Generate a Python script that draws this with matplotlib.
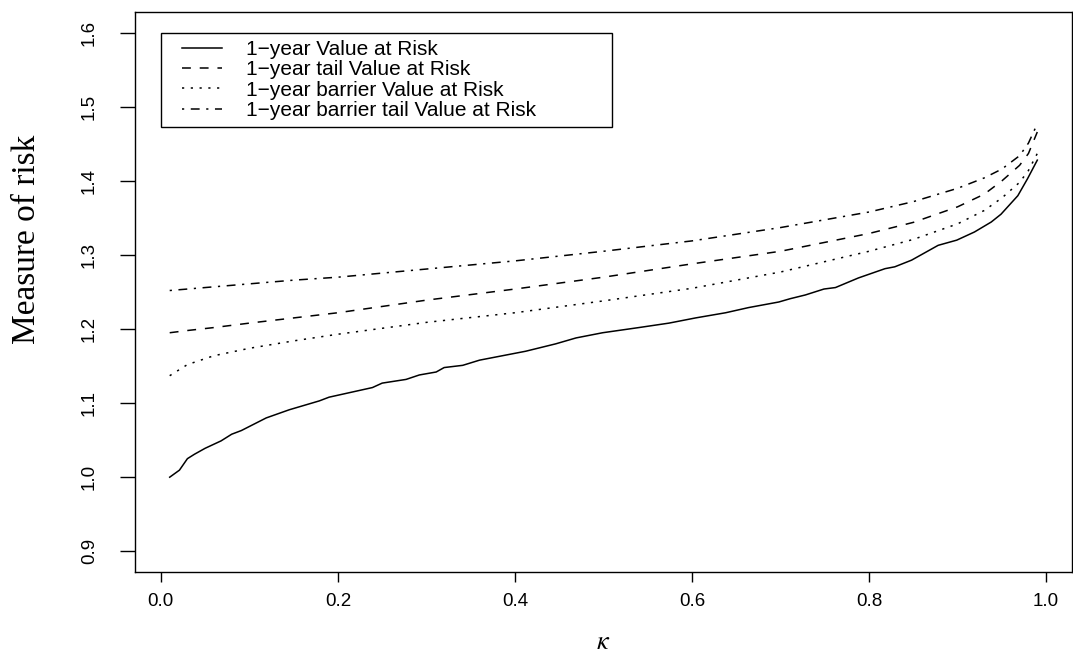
import matplotlib
matplotlib.use("Agg")
import matplotlib.pyplot as plt
from matplotlib.ticker import FormatStrFormatter
from matplotlib.legend_handler import HandlerLine2D
from matplotlib.lines import Line2D

# solid curve (1-year VaR)
kappa_var = [0.01, 0.021, 0.03, 0.038, 0.05, 0.068, 0.08, 0.091, 0.119, 0.145,
             0.179, 0.19, 0.239, 0.25, 0.277, 0.292, 0.311, 0.32, 0.341, 0.36,
             0.412, 0.446, 0.469, 0.499, 0.54, 0.574, 0.604, 0.638, 0.664, 0.698,
             0.711, 0.728, 0.749, 0.762, 0.788, 0.818, 0.829, 0.848, 0.878, 0.899,
             0.919, 0.938, 0.949, 0.968, 0.979, 0.99]
var_1y = [1.000, 1.0095, 1.025, 1.031, 1.039, 1.049, 1.058, 1.063, 1.080, 1.091,
          1.103, 1.108, 1.121, 1.127, 1.132, 1.138, 1.142, 1.148, 1.151, 1.158,
          1.170, 1.180, 1.188, 1.195, 1.202, 1.208, 1.215, 1.222, 1.229, 1.2365,
          1.241, 1.246, 1.254, 1.256, 1.269, 1.2815, 1.284, 1.293, 1.313, 1.320,
          1.331, 1.3445, 1.355, 1.380, 1.403, 1.428]

# the three smoother curves
kappa = [0.01, 0.03, 0.06, 0.10, 0.15, 0.20, 0.30, 0.40, 0.50, 0.60,
         0.70, 0.80, 0.85, 0.90, 0.93, 0.95, 0.97, 0.98, 0.99]
tvar_1y = [1.195, 1.198, 1.202, 1.208, 1.215, 1.222, 1.239, 1.254, 1.270, 1.288,
           1.305, 1.329, 1.344, 1.365, 1.382, 1.400, 1.421, 1.437, 1.466]
bvar_1y = [1.137, 1.152, 1.164, 1.174, 1.184, 1.193, 1.209, 1.222, 1.238, 1.255,
           1.277, 1.305, 1.321, 1.342, 1.360, 1.377, 1.398, 1.414, 1.437]
btvar_1y = [1.252, 1.254, 1.257, 1.261, 1.266, 1.270, 1.281, 1.292, 1.305, 1.319,
            1.337, 1.358, 1.372, 1.390, 1.404, 1.416, 1.434, 1.451, 1.477]

labels = ["1\u2212year Value at Risk",
          "1\u2212year tail Value at Risk",
          "1\u2212year barrier Value at Risk",
          "1\u2212year barrier tail Value at Risk"]

x_ticks = [0.0, 0.2, 0.4, 0.6, 0.8, 1.0]
y_ticks = [0.9, 1.0, 1.1, 1.2, 1.3, 1.4, 1.5, 1.6]

plt.rcParams["font.family"] = ["Liberation Sans", "DejaVu Sans"]
plt.rcParams["mathtext.fontset"] = "stix"

fig = plt.figure(figsize=(10.73, 6.6), dpi=100)
ax = fig.add_axes([135 / 1073, 88 / 660, 937 / 1073, 560 / 660])

lw = 1.1
ax.plot(kappa_var, var_1y, color="black", lw=lw, label=labels[0])
ax.plot(kappa, tvar_1y, color="black", lw=lw, dashes=(5.8, 5.8), label=labels[1])
ax.plot(kappa, bvar_1y, color="black", lw=lw, dashes=(1.44, 4.3), label=labels[2])
ax.plot(kappa, btvar_1y, color="black", lw=lw, dashes=(1.44, 4.3, 5.8, 4.3), label=labels[3])

ax.set_xlim(-0.0292, 1.0292)
ax.set_ylim(0.872, 1.628)
ax.set_xticks(x_ticks)
ax.set_yticks(y_ticks)
ax.xaxis.set_major_formatter(FormatStrFormatter("%.1f"))
ax.yaxis.set_major_formatter(FormatStrFormatter("%.1f"))
ax.tick_params(axis="x", direction="out", length=7, width=1, labelsize=13.5, pad=8)
ax.tick_params(axis="y", direction="out", length=10.8, width=1, labelsize=13.5, pad=16)
for t in ax.get_yticklabels():
    t.set_rotation(90)
    t.set_va("center")
for s in ax.spines.values():
    s.set_linewidth(1)

ax.set_xlabel(r"$\kappa$", fontsize=19)
ax.xaxis.label.set_va("center")
ax.xaxis.set_label_coords(0.5, -70 / 560)
ax.set_ylabel("Measure of risk", family="Liberation Serif", fontsize=24)
ax.yaxis.label.set_va("center")
ax.yaxis.set_label_coords(-108 / 937, 333 / 560)


class ShiftedLine(HandlerLine2D):
    # R puts the sample lines a bit further in from the box edge
    def __init__(self, shift, **kw):
        super().__init__(**kw)
        self.shift = shift

    def create_artists(self, legend, orig_handle, xdescent, ydescent, width,
                       height, fontsize, trans):
        return super().create_artists(legend, orig_handle, xdescent - self.shift,
                                      ydescent, width - self.shift, height,
                                      fontsize, trans)


handler = ShiftedLine(10.0)
leg = ax.legend(loc="upper left", bbox_to_anchor=(0.0, 1.6, 0.51, 0.0),
                bbox_transform=ax.transData, mode="expand", borderaxespad=0,
                fontsize=15, frameon=True, fancybox=False, framealpha=1,
                edgecolor="black", borderpad=0.36, labelspacing=0.06,
                handlelength=2.59, handletextpad=1.15,
                handler_map={Line2D: handler})
leg.get_frame().set_linewidth(1)

fig.savefig("out.png", dpi=100)
